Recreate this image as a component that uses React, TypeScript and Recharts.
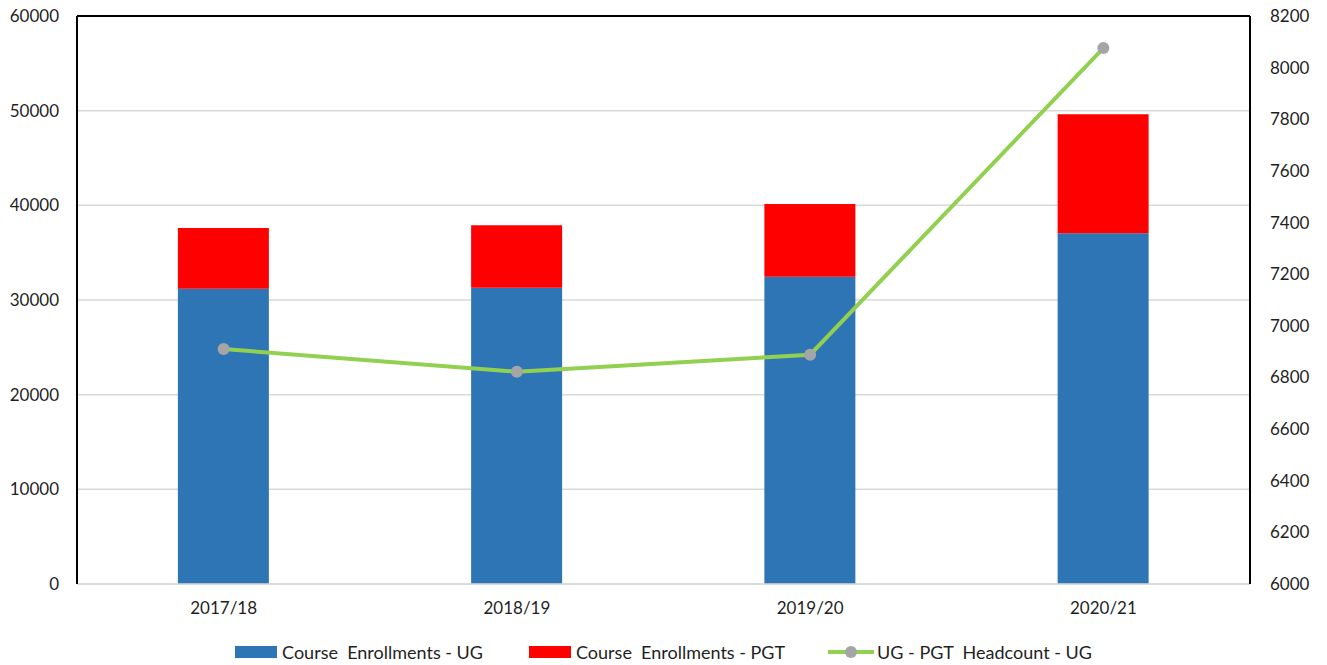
import React from 'react';
import {
  ComposedChart,
  Bar,
  Line,
  XAxis,
  YAxis,
  CartesianGrid,
  Legend,
  ReferenceLine,
} from 'recharts';

const years = ['2017/18', '2018/19', '2019/20', '2020/21'];
const ugEnrollments = [31200, 31300, 32450, 37050];
const pgtEnrollments = [6400, 6600, 7680, 12560];
const headcount = [6910, 6822, 6888, 8076];

const leftTicks = [0, 10000, 20000, 30000, 40000, 50000, 60000];
const rightTicks = [6000, 6200, 6400, 6600, 6800, 7000, 7200, 7400, 7600, 7800, 8000, 8200];

const BLUE = '#2E75B6';
const RED = '#FF0000';
const GREEN = '#92D050';
const GREY = '#A5A5A5';
const TEXT = '#1F1F1F';
const FONT = 'Lato, "Open Sans", sans-serif';

const chartData = years.map((year, i) => ({
  year,
  ug: ugEnrollments[i],
  pgt: pgtEnrollments[i],
  headcount: headcount[i],
}));

const LegendBox = () => (
  <div
    style={{
      height: 26,
      display: 'flex',
      alignItems: 'center',
      justifyContent: 'center',
      fontFamily: FONT,
      fontSize: 18,
      color: TEXT,
      whiteSpace: 'pre',
    }}
  >
    <span style={{ display: 'inline-block', width: 42, height: 12, background: BLUE, marginRight: 5 }} />
    <span style={{ marginRight: 46 }}>Course  Enrollments - UG</span>
    <span style={{ display: 'inline-block', width: 42, height: 12, background: RED, marginRight: 5 }} />
    <span style={{ marginRight: 43 }}>Course  Enrollments - PGT</span>
    <svg width={46} height={14} style={{ marginRight: 3 }}>
      <line x1={0} y1={7} x2={46} y2={7} stroke={GREEN} strokeWidth={4} />
      <circle cx={23} cy={7} r={6} fill={GREY} />
    </svg>
    <span>UG - PGT  Headcount - UG</span>
  </div>
);

const App = () => {
  const tickStyle = { fill: TEXT, fontSize: 17, fontFamily: FONT };

  return (
    <div style={{ position: 'absolute', left: 0, top: 0 }}>
      <ComposedChart
        width={1327}
        height={665}
        data={chartData}
        margin={{ top: 16, right: 0, bottom: 0, left: 0 }}
        barCategoryGap="34.4%"
      >
        <CartesianGrid vertical={false} stroke="#D9D9D9" strokeWidth={1.5} yAxisId="left" />
        <XAxis
          dataKey="year"
          height={55}
          axisLine={{ stroke: '#D9D9D9', strokeWidth: 1.5 }}
          tickLine={false}
          tickMargin={12}
          tick={tickStyle}
        />
        <YAxis
          yAxisId="left"
          width={77}
          domain={[0, 60000]}
          ticks={leftTicks}
          axisLine={{ stroke: '#000', strokeWidth: 2 }}
          tickLine={false}
          tickMargin={12}
          tick={tickStyle}
        />
        <YAxis
          yAxisId="right"
          orientation="right"
          width={77}
          domain={[6000, 8200]}
          ticks={rightTicks}
          axisLine={{ stroke: '#000', strokeWidth: 2 }}
          tickLine={false}
          tickMargin={14}
          tick={tickStyle}
        />
        <ReferenceLine yAxisId="left" y={60000} stroke="#000" strokeWidth={2} />
        <Legend verticalAlign="bottom" content={<LegendBox />} />
        <Bar yAxisId="left" dataKey="ug" stackId="enrol" fill={BLUE} isAnimationActive={false} />
        <Bar yAxisId="left" dataKey="pgt" stackId="enrol" fill={RED} isAnimationActive={false} />
        <Line
          yAxisId="right"
          dataKey="headcount"
          stroke={GREEN}
          strokeWidth={4}
          dot={{ r: 6, fill: GREY, stroke: GREY, strokeWidth: 0 }}
          activeDot={false}
          isAnimationActive={false}
        />
      </ComposedChart>
    </div>
  );
};

export default App;
